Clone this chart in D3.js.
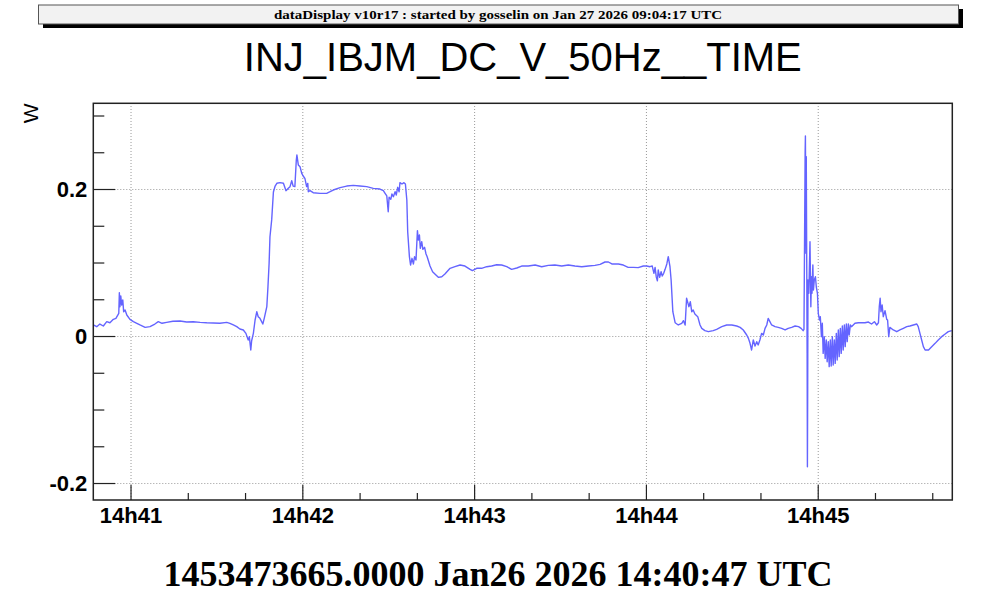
<!DOCTYPE html>
<html>
<head>
    <meta charset="utf-8" />
    <title>INJ_IBJM_DC_V_50Hz__TIME</title>
    <script src="https://cdn.jsdelivr.net/npm/d3@7/dist/d3.min.js"></script>
    <style type="text/css">
        body { margin: 0; background: #fff; }
        .title { font-family: "Liberation Sans", Arial, sans-serif; font-size: 40px; fill: #000; }
        .header { font-family: "Liberation Serif", "Times New Roman", serif; font-weight: bold; font-size: 12px; }
        .footer { font-family: "Liberation Serif", "Times New Roman", serif; font-weight: bold; font-size: 36px; }
        .axis text { font-family: "Liberation Sans", Arial, sans-serif; font-weight: bold; font-size: 22px; fill: #000; }
        .axis line { stroke: #222; stroke-width: 1.2px; }
        .grid line { stroke: #999; stroke-width: 1px; stroke-dasharray: 1,2; }
        .trace { fill: none; stroke: #6464ff; stroke-width: 1.4px; stroke-linejoin: round; }
    </style>
</head>
<body>
<svg id="chart" width="996" height="599"></svg>
<script type="text/javascript">
    // run start: 1453473665 -> shown as Jan26 2026 14:40:47 UTC, 5 minutes of data
    const startTime = Date.UTC(2026, 0, 26, 14, 40, 47);
    const spanSec = 300;

    // seconds since start
    const timeSec = [
        0, 1.2, 2.3, 3.5, 4.7, 5.8, 7.0, 7.9, 8.9, 9.1,
        9.3, 9.6, 9.9, 10.3, 10.6, 11.1, 11.7, 12.8, 14.0, 15.2,
        16.3, 18.1, 19.8, 21.5, 22.7, 24.0, 25.6, 27.8, 30.3, 32.6,
        34.9, 37.3, 39.6, 41.9, 44.2, 46.6, 47.7, 48.9, 50.1, 51.2,
        52.4, 53.3, 54.1, 54.5, 55.0, 55.3, 55.9, 56.5, 57.1, 57.6,
        58.2, 59.2, 59.7, 60.6, 61.0, 61.4, 61.7, 62.3, 62.9, 63.5,
        64.1, 65.2, 66.4, 67.3, 68.1, 68.7, 69.3, 69.8, 70.4, 70.9,
        71.1, 71.6, 72.2, 72.8, 73.3, 73.9, 74.5, 74.9, 75.1, 75.7,
        76.8, 79.2, 81.5, 82.7, 83.8, 86.2, 88.5, 90.8, 93.1, 95.5,
        97.8, 100.1,
        101.3, 101.9, 102.5, 103.0, 103.3, 103.9, 104.3, 104.8, 105.4, 105.8,
        106.3, 106.8, 107.1, 107.8, 108.5, 109.0, 109.5, 109.8, 110.4, 110.8,
        111.3, 111.8, 112.2, 112.7, 113.2, 113.5, 113.9, 114.2, 114.7, 115.1,
        115.7, 116.2, 116.6, 117.6, 118.5, 119.3, 120.5, 121.7, 122.8, 124.6,
        126.3, 128.1, 129.8, 131.6, 132.4, 133.9, 135.6, 137.4, 139.1, 140.9,
        142.6, 144.4, 146.1, 147.9, 149.6, 151.9, 154.3, 156.6, 158.9, 161.2,
        163.6, 165.9, 168.2, 170.6, 172.9, 175.2, 177.0, 178.7, 179.9, 181.1,
        183.4, 185.1, 186.8, 188.6, 190.3, 192.1, 193.3, 194.4, 195.2, 195.8,
        196.2, 196.6, 197.0, 197.3, 197.8, 198.3, 198.7, 199.2, 199.7, 200.3,
        200.8, 201.4, 201.8, 202.4, 203.2, 204.3, 205.5, 206.1, 206.7, 207.2,
        207.7, 208.0, 208.5, 209.0, 209.5, 210.1, 211.1, 211.9,
        212.5, 213.6, 214.8, 216.5, 217.7, 219.5, 221.2, 223.0, 224.7, 225.9,
        227.0, 228.2, 228.8, 229.3, 229.9, 230.5, 231.1, 231.7, 232.2, 232.8,
        233.4, 234.0, 234.6, 235.2, 235.7, 236.3, 236.9, 238.1, 239.2, 240.4,
        241.6, 242.7, 243.9, 245.1, 246.3, 247.2, 247.9, 248.2, 248.6, 248.7,
        248.9, 249.0, 249.3, 249.4, 249.5, 249.6, 249.9, 250.1, 250.3, 250.6,
        250.8, 251.0, 251.3, 251.5, 251.8, 252.2, 252.5, 252.9, 253.2, 253.6,
        253.9, 254.3, 254.6, 254.9, 255.3, 255.6, 256.0, 256.3, 256.7, 257.0,
        257.4, 257.7, 258.1, 258.4, 258.8, 259.1, 259.5, 259.8, 260.2, 260.5,
        260.9, 261.2, 261.6, 261.9, 262.3, 262.6, 263.0, 263.3, 263.7, 264.0,
        264.4, 264.8, 266.0, 267.2, 268.3, 269.5, 270.7, 271.8, 272.8, 273.6,
        274.2, 274.5, 274.8, 275.1, 275.5, 275.9, 276.5, 277.1, 277.4, 277.8,
        278.2, 279.4, 280.6, 281.7, 282.9, 284.1, 285.2, 286.4, 287.6, 288.1,
        288.7, 289.3, 289.9, 290.5, 291.7, 292.8, 294.0, 295.1, 296.3, 297.5,
        298.6, 299.8
    ];

    // INJ_IBJM_DC_V_50Hz (W)
    const watts = [
        0.015, 0.0127, 0.0163, 0.0136, 0.0195, 0.018, 0.0227, 0.024, 0.0309, 0.0589,
        0.0399, 0.0544, 0.0422, 0.049, 0.033, 0.0354, 0.0286, 0.0227, 0.0195, 0.0173,
        0.015, 0.0118, 0.0127, 0.0163, 0.0195, 0.0173, 0.0186, 0.02, 0.0204, 0.019,
        0.0195, 0.0186, 0.018, 0.0177, 0.0173, 0.0186, 0.0173, 0.015, 0.0127, 0.0095,
        0.0082, 0.0036, -0.0054, -0.001, -0.019, -0.0064, 0.0036, 0.0218, 0.033, 0.0263,
        0.024, 0.0163, 0.024, 0.0399, 0.067, 0.0989, 0.135, 0.158, 0.196, 0.204,
        0.2078, 0.2086, 0.2078, 0.1977, 0.201, 0.2032, 0.2113, 0.204, 0.2032, 0.2395,
        0.2463, 0.2327, 0.2303, 0.2213, 0.2177, 0.2145, 0.2032, 0.2077, 0.1963, 0.1977,
        0.195, 0.1941, 0.1941, 0.1963, 0.1986, 0.2018, 0.204, 0.205, 0.2041, 0.2032,
        0.2009, 0.2,
        0.1977, 0.1941, 0.1905, 0.1691, 0.1887, 0.186, 0.1932, 0.1896, 0.1963, 0.1918,
        0.2023, 0.1963, 0.2086, 0.2068, 0.2086, 0.2068, 0.185, 0.1419, 0.1079, 0.0966,
        0.1057, 0.098, 0.1079, 0.1034, 0.1433, 0.1306, 0.1374, 0.1193, 0.1283, 0.118,
        0.1206, 0.1116, 0.1079, 0.0952, 0.0875, 0.0844, 0.0798, 0.0807, 0.0844, 0.0921,
        0.0943, 0.0966, 0.0952, 0.0907, 0.0889, 0.0921, 0.0921, 0.0943, 0.0952, 0.097,
        0.0966, 0.0943, 0.0907, 0.0925, 0.0952, 0.0952, 0.0966, 0.0943, 0.0961, 0.0966,
        0.0952, 0.0966, 0.0952, 0.0943, 0.0952, 0.0961, 0.0975, 0.1007, 0.1007, 0.098,
        0.098, 0.0966, 0.0934, 0.0934, 0.093, 0.0952, 0.0952, 0.0943, 0.0952, 0.0853,
        0.0934, 0.0807, 0.0752, 0.0898, 0.0798, 0.0875, 0.0816, 0.0853, 0.0907, 0.098,
        0.1079, 0.0943, 0.0762, 0.0331, 0.0181, 0.015, 0.0173, 0.0209, 0.015, 0.0513,
        0.0444, 0.0399, 0.0467, 0.0331, 0.0354, 0.0299, 0.0263, 0.015,
        0.0104, 0.0073, 0.0059, 0.0073, 0.0091, 0.0127, 0.015, 0.015, 0.0136, 0.0118,
        0.0082, 0.0014, -0.0032, -0.0091, -0.019, -0.0054, -0.0136, -0.0077, -0.0122, -0.0054,
        0.0036, 0.0014, 0.0104, 0.015, 0.024, 0.0195, 0.015, 0.0127, 0.0118, 0.0104,
        0.0082, 0.0104, 0.0118, 0.0136, 0.0127, 0.0104, 0.0073, 0.0091, 0.2486, 0.2721,
        0.1125, 0.244, -0.0236, -0.1778, -0.069, 0.0762, 0.0581, 0.0943, 0.1283, 0.0399,
        0.0807, 0.0581, 0.0966, 0.0626, 0.0762, 0.0807, 0.067, 0.0581, 0.0309, 0.0218,
        0.0263, -0.0009, 0.0173, -0.0236, -0.0009, -0.0304, -0.0054, -0.035, -0.0077, -0.0417,
        -0.0054, -0.0408, -0.0009, -0.0395, -0.0054, -0.0372, 0.0036, -0.0327, 0.0082, -0.0281,
        0.0104, -0.0236, 0.0136, -0.019, 0.015, -0.0145, 0.0163, -0.0077, 0.0163, 0.0014,
        0.015, 0.0127, 0.0173, 0.0181, 0.0181, 0.0181, 0.019, 0.0163, 0.0195, 0.015,
        0.0181, 0.0399, 0.0513, 0.0331, 0.0422, 0.0263, 0.0345, 0.0227, 0.0218, -0.0009,
        0.0118, 0.0082, 0.0059, 0.0082, 0.0104, 0.0127, 0.0136, 0.015, 0.0163, 0.0127,
        0.0036, -0.0054, -0.0145, -0.019, -0.019, -0.0145, -0.01, -0.0054, -0.0009, 0.0027,
        0.0059, 0.0073
    ];

    const yDomain = [-0.2231, 0.3166];
    const yMajorTicks = [-0.2, 0, 0.2];
    const yMinorTicks = [-0.15, -0.1, -0.05, 0.05, 0.1, 0.15, 0.25, 0.3];

    const chartTitle = "INJ_IBJM_DC_V_50Hz__TIME";
    const yTitle = "W";
    const headerText = "dataDisplay v10r17 : started by gosselin on Jan 27 2026 09:04:17 UTC";
    const footerText = "1453473665.0000 Jan26 2026 14:40:47 UTC";

    if (timeSec.length !== watts.length) console.error("length mismatch", timeSec.length, watts.length);

    const width = 996, height = 599;
    const frame = { left: 93.3, top: 103.3, right: 952.3, bottom: 500 };
    const plotW = frame.right - frame.left, plotH = frame.bottom - frame.top;

    const svg = d3.select("#chart");

    // header box with drop shadow
    svg.append("rect").attr("x", 43).attr("y", 9).attr("width", 920).attr("height", 19).attr("fill", "#000");
    svg.append("rect").attr("x", 38.5).attr("y", 5).attr("width", 920).attr("height", 19)
        .attr("fill", "#f2f2f2").attr("stroke", "#555").attr("stroke-width", 1);
    svg.append("text").attr("class", "header")
        .attr("x", 498).attr("y", 19).attr("text-anchor", "middle")
        .attr("textLength", 448).attr("lengthAdjust", "spacingAndGlyphs")
        .text(headerText);

    svg.append("text").attr("class", "title")
        .attr("x", (frame.left + frame.right) / 2).attr("y", 71)
        .attr("text-anchor", "middle")
        .text(chartTitle);

    const x = d3.scaleUtc()
        .domain([new Date(startTime), new Date(startTime + spanSec * 1000)])
        .range([0, plotW]);
    const y = d3.scaleLinear().domain(yDomain).range([plotH, 0]);

    const g = svg.append("g").attr("transform", `translate(${frame.left},${frame.top})`);

    // dotted grid at major ticks
    g.append("g").attr("class", "grid")
        .attr("transform", `translate(0,${plotH})`)
        .call(d3.axisBottom(x).ticks(d3.utcMinute.every(1)).tickSize(-plotH).tickFormat(""))
        .call(a => a.select(".domain").remove());
    g.append("g").attr("class", "grid")
        .call(d3.axisLeft(y).tickValues(yMajorTicks).tickSize(-plotW).tickFormat(""))
        .call(a => a.select(".domain").remove());

    // data
    g.append("clipPath").attr("id", "clip")
        .append("rect").attr("width", plotW).attr("height", plotH);

    const points = timeSec.map((t, i) => ({ t: new Date(startTime + t * 1000), v: watts[i] }));
    const line = d3.line().x(d => x(d.t)).y(d => y(d.v));
    g.append("path").datum(points)
        .attr("class", "trace")
        .attr("clip-path", "url(#clip)")
        .attr("d", line);

    // axes (ticks inside the frame, ROOT style)
    const minuteFmt = d3.utcFormat("%Hh%M");
    g.append("g").attr("class", "axis")
        .attr("transform", `translate(0,${plotH})`)
        .call(d3.axisBottom(x).ticks(d3.utcMinute.every(1)).tickSize(-15).tickSizeOuter(0)
            .tickPadding(8).tickFormat(minuteFmt))
        .call(a => a.select(".domain").remove())
        .call(a => a.selectAll("text").attr("dy", "0.68em"));
    const minorX = x.ticks(d3.utcSecond.every(20)).filter(d => d.getUTCSeconds() !== 0);
    g.append("g").attr("class", "axis")
        .attr("transform", `translate(0,${plotH})`)
        .call(d3.axisBottom(x).tickValues(minorX).tickSize(-7).tickSizeOuter(0).tickFormat(""))
        .call(a => a.select(".domain").remove());

    g.append("g").attr("class", "axis")
        .call(d3.axisLeft(y).tickValues(yMajorTicks).tickSize(-22).tickSizeOuter(0)
            .tickPadding(6).tickFormat(d => String(+d.toFixed(2))))
        .call(a => a.select(".domain").remove());
    g.append("g").attr("class", "axis")
        .call(d3.axisLeft(y).tickValues(yMinorTicks).tickSize(-11).tickSizeOuter(0).tickFormat(""))
        .call(a => a.select(".domain").remove());

    // frame
    g.append("rect").attr("width", plotW).attr("height", plotH)
        .attr("fill", "none").attr("stroke", "#222").attr("stroke-width", 1.5);

    // y title, right-adjusted at the top of the axis
    svg.append("text")
        .attr("transform", `translate(37.5,${frame.top}) rotate(-90)`)
        .attr("text-anchor", "end")
        .style("font-family", "'Liberation Sans', Arial, sans-serif")
        .style("font-size", "21px")
        .text(yTitle);

    svg.append("text").attr("class", "footer")
        .attr("x", width / 2).attr("y", 586).attr("text-anchor", "middle")
        .text(footerText);
</script>
</body>
</html>
